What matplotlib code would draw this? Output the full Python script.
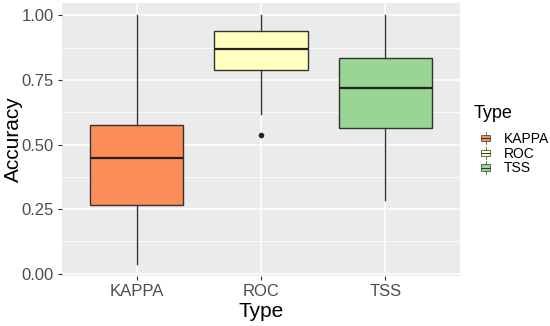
import matplotlib.pyplot as plt
from matplotlib.legend_handler import HandlerBase
from matplotlib.patches import Rectangle, Patch
from matplotlib.lines import Line2D
from matplotlib.ticker import MultipleLocator

plt.rcParams['font.family'] = ['Liberation Sans', 'DejaVu Sans']

# values
types = ["KAPPA", "ROC", "TSS"]
q1 = [0.264, 0.788, 0.563]
medians = [0.446, 0.871, 0.718]
q3 = [0.574, 0.939, 0.835]
whisker_low = [0.039, 0.619, 0.286]
whisker_high = [1.0, 1.0, 1.0]
outliers = [[], [0.537], []]
fills = ["#FC8D59", "#FFFFBF", "#99D594"]


class BoxKeyHandler(HandlerBase):
    # small boxplot glyph for legend keys, like ggplot
    def create_artists(self, legend, orig_handle, xdescent, ydescent,
                       width, height, fontsize, trans):
        x0 = -xdescent + width * 0.1
        w = width * 0.8
        y0 = -ydescent
        cx = x0 + w / 2
        rect = Rectangle((x0, y0 + height * 0.2), w, height * 0.6,
                         facecolor=orig_handle.get_facecolor(),
                         edgecolor="#333333", lw=0.5, transform=trans)
        top = Line2D([cx, cx], [y0 + height * 0.8, y0 + height * 1.05],
                     color="#333333", lw=0.5, transform=trans)
        bot = Line2D([cx, cx], [y0 - height * 0.05, y0 + height * 0.2],
                     color="#333333", lw=0.5, transform=trans)
        mid = Line2D([x0, x0 + w], [y0 + height * 0.5] * 2,
                     color="#333333", lw=0.7, transform=trans)
        return [rect, top, bot, mid]


fig = plt.figure(figsize=(5.5, 3.26), dpi=100)
ax = fig.add_axes([62 / 550, 50 / 326, 398 / 550, 273 / 326])
ax.set_facecolor("#EBEBEB")

stats = []
for i, t in enumerate(types):
    stats.append({
        "label": t, "med": medians[i], "q1": q1[i], "q3": q3[i],
        "whislo": whisker_low[i], "whishi": whisker_high[i],
        "fliers": outliers[i],
    })

bp = ax.bxp(stats, positions=range(1, len(types) + 1), widths=0.75,
            patch_artist=True, showcaps=False,
            boxprops=dict(edgecolor="#333333", lw=1.0),
            medianprops=dict(color="#222222", lw=1.6),
            whiskerprops=dict(color="#333333", lw=1.0),
            flierprops=dict(marker="o", markersize=3, markerfacecolor="#222222",
                            markeredgecolor="#222222"),
            zorder=3)
for patch, c in zip(bp["boxes"], fills):
    patch.set_facecolor(c)

ax.set_xlim(0.4, len(types) + 0.6)
ax.set_ylim(-0.009, 1.048)
ax.yaxis.set_minor_locator(MultipleLocator(0.125))
ax.set_yticks([0, 0.25, 0.5, 0.75, 1.0])
ax.set_yticklabels(["0.00", "0.25", "0.50", "0.75", "1.00"])
ax.set_xticks(range(1, len(types) + 1))
ax.set_xticklabels(types)

ax.grid(True, which="major", color="white", lw=1.1, zorder=0)
ax.grid(True, which="minor", axis="y", color="white", lw=0.55, zorder=0)
ax.set_axisbelow(True)
for s in ax.spines.values():
    s.set_visible(False)
ax.tick_params(which="major", length=3, color="#333333", labelsize=12,
               labelcolor="#4D4D4D", pad=3)
ax.tick_params(which="minor", length=0)

ax.set_xlabel("Type", fontsize=15, labelpad=2)
ax.set_ylabel("Accuracy", fontsize=15)
ax.yaxis.set_label_coords(-0.098, 0.5)

# legend title drawn on its own so the gap to the keys can be set
fig.text(474 / 550, 1 - 105 / 326, "Type", fontsize=13, ha="left", va="top")
handles = [Patch(facecolor=c) for c in fills]
leg = fig.legend(handles, types, loc="upper left",
                 bbox_to_anchor=(473 / 550, 1 - 125 / 326), frameon=False,
                 borderpad=0, fontsize=10, handlelength=0.8,
                 handleheight=0.85, handletextpad=0.9, labelspacing=0.05,
                 handler_map={Patch: BoxKeyHandler()})

fig.savefig("out.png", dpi=100)
